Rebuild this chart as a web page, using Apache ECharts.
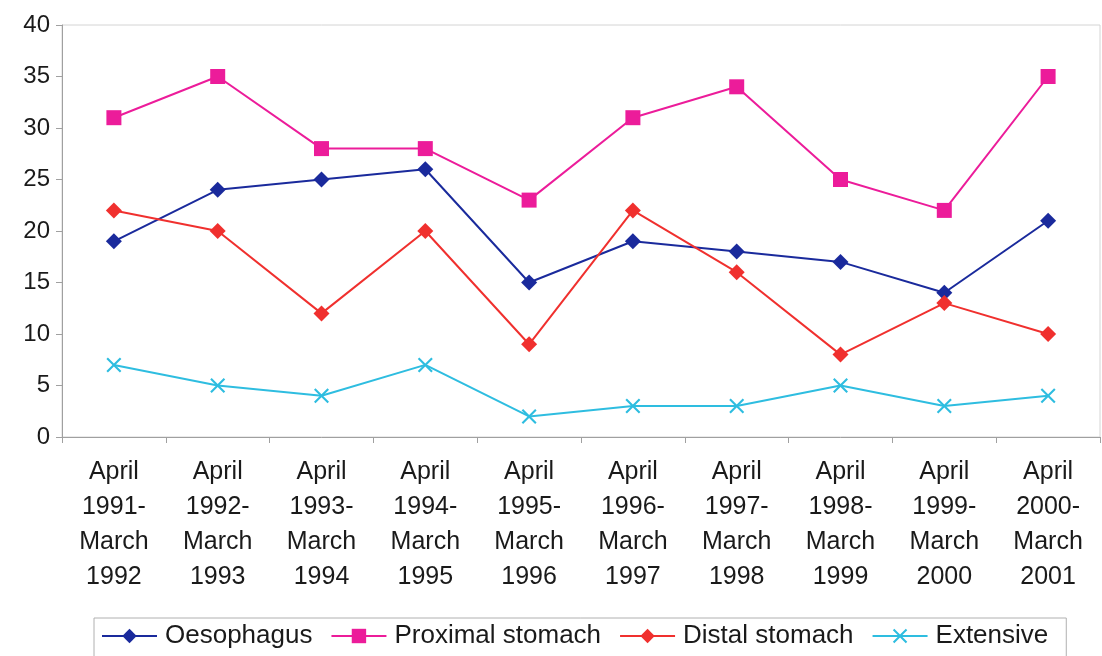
<!DOCTYPE html>
<html>
<head>
<meta charset="utf-8">
<script src="https://cdn.jsdelivr.net/npm/echarts@6/dist/echarts.min.js"></script>
<style>
  html, body { margin: 0; padding: 0; background: #ffffff; }
  #chart { width: 1102px; height: 656px; }
</style>
</head>
<body>
<div id="chart"></div>
<script>
// Yearly periods (April to March)
const periods = [
  'April\n1991-\nMarch\n1992', 'April\n1992-\nMarch\n1993', 'April\n1993-\nMarch\n1994',
  'April\n1994-\nMarch\n1995', 'April\n1995-\nMarch\n1996', 'April\n1996-\nMarch\n1997',
  'April\n1997-\nMarch\n1998', 'April\n1998-\nMarch\n1999', 'April\n1999-\nMarch\n2000',
  'April\n2000-\nMarch\n2001'
];

const oesophagus      = [19, 24, 25, 26, 15, 19, 18, 17, 14, 21];
const proximalStomach = [31, 35, 28, 28, 23, 31, 34, 25, 22, 35];
const distalStomach   = [22, 20, 12, 20, 9, 22, 16, 8, 13, 10];
const extensive       = [7, 5, 4, 7, 2, 3, 3, 5, 3, 4];

const seriesNames = ['Oesophagus', 'Proximal stomach', 'Distal stomach', 'Extensive'];

// X-shaped marker as a filled outline
const crossPath = 'path://M0,1 L1,0 L5,4 L9,0 L10,1 L6,5 L10,9 L9,10 L5,6 L1,10 L0,9 L4,5 Z';

const font = '"Liberation Sans", Arial, sans-serif';

function lineSeries(name, data, color, symbol, size) {
  return {
    name: name,
    type: 'line',
    data: data,
    symbol: symbol,
    symbolSize: size,
    showAllSymbol: true,
    lineStyle: { color: color, width: 2 },
    itemStyle: { color: color },
    emphasis: { disabled: true },
    animation: false
  };
}

const chart = echarts.init(document.getElementById('chart'));
chart.setOption({
  backgroundColor: '#ffffff',
  textStyle: { fontFamily: font },
  grid: {
    left: 62, right: 2, top: 25, bottom: 219,
    show: true, borderColor: '#d4d4d4', borderWidth: 1
  },
  xAxis: {
    type: 'category',
    data: periods,
    boundaryGap: true,
    axisLine: { lineStyle: { color: '#a0a0a0', width: 1 } },
    axisTick: { show: true, length: 6, lineStyle: { color: '#a0a0a0' } },
    axisLabel: {
      interval: 0, margin: 18, color: '#1a1a1a',
      fontSize: 25, lineHeight: 35, fontFamily: font
    },
    splitLine: { show: false }
  },
  yAxis: {
    type: 'value',
    min: 0, max: 40, interval: 5,
    axisLine: { show: true, lineStyle: { color: '#a0a0a0', width: 1 } },
    axisTick: { show: true, length: 6, lineStyle: { color: '#a0a0a0' } },
    axisLabel: { margin: 12, color: '#1a1a1a', fontSize: 24, fontFamily: font },
    splitLine: { show: false }
  },
  legend: {
    data: seriesNames,
    left: 94, top: 618,
    width: 980,
    itemWidth: 55, itemHeight: 18, itemGap: 18,
    padding: [5, 18, 14, 7],
    borderColor: '#b0b0b0', borderWidth: 1,
    textStyle: { fontSize: 26, color: '#1a1a1a', fontFamily: font, padding: [0, 0, 0, 3] },
    selectedMode: false
  },
  series: [
    lineSeries(seriesNames[0], oesophagus, '#1a2a9c', 'diamond', 16),
    lineSeries(seriesNames[1], proximalStomach, '#ec1c9a', 'rect', 15),
    lineSeries(seriesNames[2], distalStomach, '#f0302e', 'diamond', 16),
    lineSeries(seriesNames[3], extensive, '#2ebde0', crossPath, 15)
  ]
});
</script>
</body>
</html>
